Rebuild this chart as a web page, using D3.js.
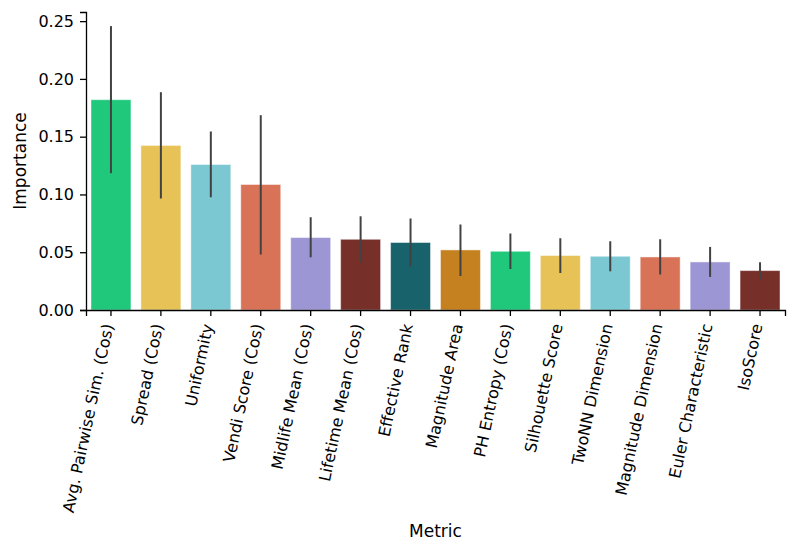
<!DOCTYPE html>
<html>
<head>
<meta charset="utf-8">
<script src="https://cdn.jsdelivr.net/npm/d3@7"></script>
<style>
  body { margin: 0; background: #fff; }
  text { font-family: "DejaVu Sans", sans-serif; }
</style>
</head>
<body>
<script>
// data
var metrics = ["Avg. Pairwise Sim. (Cos)", "Spread (Cos)", "Uniformity", "Vendi Score (Cos)",
  "Midlife Mean (Cos)", "Lifetime Mean (Cos)", "Effective Rank", "Magnitude Area",
  "PH Entropy (Cos)", "Silhouette Score", "TwoNN Dimension", "Magnitude Dimension",
  "Euler Characteristic", "IsoScore"];
var importance = [0.182, 0.1424, 0.1259, 0.1086, 0.0627, 0.0612, 0.0584, 0.052, 0.0508, 0.0471, 0.0465, 0.0459, 0.0416, 0.0341];
var errLow  = [0.1184, 0.0965, 0.0976, 0.048, 0.0456, 0.0413, 0.0376, 0.0294, 0.0355, 0.032, 0.0335, 0.0307, 0.0286, 0.0266];
var errHigh = [0.2457, 0.1885, 0.1545, 0.1686, 0.0803, 0.0811, 0.0792, 0.074, 0.0662, 0.0621, 0.0595, 0.0612, 0.0546, 0.0413];
var palette = ["#1fc87a", "#e6c257", "#7bc7d2", "#d97358", "#9c97d4", "#772f2a", "#18636b", "#c5801f"];
var yTicks = [0, 0.05, 0.10, 0.15, 0.20, 0.25];

var w = 797, h = 553;
var padL = 86, padR = 785, padT = 12, padB = 310;

var svg = d3.select("body").append("svg")
  .attr("width", w).attr("height", h);

var x = d3.scaleBand()
  .domain(metrics)
  .range([padL, padR])
  .paddingInner(0.2)
  .paddingOuter(0.1);

var y = d3.scaleLinear()
  .domain([0, 0.2579])
  .range([padB, padT]);

var colorScale = d3.scaleOrdinal().domain(metrics).range(palette);

// bars
svg.selectAll("rect.bar")
  .data(metrics)
  .enter().append("rect")
  .attr("class", "bar")
  .attr("x", function(d) { return x(d); })
  .attr("y", function(d, i) { return y(importance[i]); })
  .attr("width", x.bandwidth())
  .attr("height", function(d, i) { return y(0) - y(importance[i]); })
  .attr("fill", function(d) { return colorScale(d); })
  .attr("stroke", "rgba(255,255,255,0.45)")
  .attr("stroke-width", 1);

// error bars
svg.selectAll("line.err")
  .data(metrics)
  .enter().append("line")
  .attr("class", "err")
  .attr("x1", function(d) { return x(d) + x.bandwidth() / 2; })
  .attr("x2", function(d) { return x(d) + x.bandwidth() / 2; })
  .attr("y1", function(d, i) { return y(errLow[i]); })
  .attr("y2", function(d, i) { return y(errHigh[i]); })
  .attr("stroke", "#424242")
  .attr("stroke-width", 2);

// axes
var yAxis = d3.axisLeft(y).tickValues(yTicks).tickFormat(d3.format(".2f")).tickSizeOuter(0).tickSize(6);
var xAxis = d3.axisBottom(x).tickSizeOuter(0).tickSize(6);

var gy = svg.append("g")
  .attr("transform", "translate(" + padL + ",0)")
  .call(yAxis);
gy.select(".domain").attr("stroke", "#000").attr("stroke-width", 1.3);
gy.selectAll(".tick line").attr("stroke", "#000").attr("stroke-width", 1.3);
gy.selectAll(".tick text")
  .attr("font-size", "16px")
  .attr("font-family", "DejaVu Sans")
  .attr("fill", "#000")
  .attr("x", -12);

var gx = svg.append("g")
  .attr("transform", "translate(0," + padB + ")")
  .call(xAxis);
gx.select(".domain").attr("stroke", "#000").attr("stroke-width", 1.3);
gx.selectAll(".tick line").attr("stroke", "#000").attr("stroke-width", 1.3);
gx.selectAll(".tick text")
  .attr("font-size", "16px")
  .attr("font-family", "DejaVu Sans")
  .attr("fill", "#000")
  .attr("text-anchor", "end")
  .attr("x", 0).attr("y", 0).attr("dy", "0.35em")
  .attr("transform", "translate(-3,14) rotate(-78)");

// axis titles
svg.append("text")
  .attr("x", (padL + padR) / 2)
  .attr("y", 537)
  .attr("text-anchor", "middle")
  .attr("font-size", "17px")
  .text("Metric");

svg.append("text")
  .attr("transform", "translate(26," + ((padT + padB) / 2) + ") rotate(-90)")
  .attr("text-anchor", "middle")
  .attr("font-size", "17px")
  .text("Importance");
</script>
</body>
</html>
